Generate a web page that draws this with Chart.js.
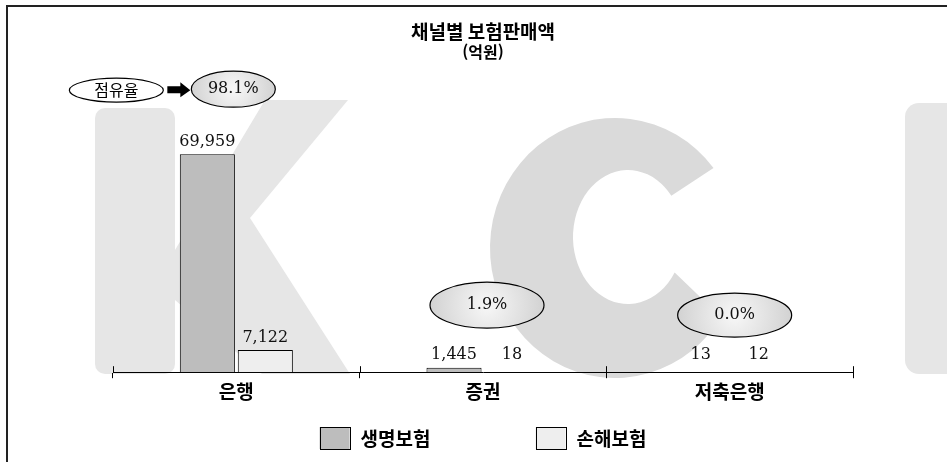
<!DOCTYPE html>
<html lang="ko">
<head>
<meta charset="utf-8">
<title>채널별 보험판매액</title>
<script src="https://cdn.jsdelivr.net/npm/chart.js@4.4.1/dist/chart.umd.min.js"></script>
<style>
    html, body { margin: 0; padding: 0; background: #fff; }
    #wrap { width: 947px; height: 462px; }
</style>
</head>
<body>
<div id="wrap"><canvas id="chart" width="947" height="462"></canvas></div>
<script>
// 채널별 판매액 (억원)
const channels = ["은행", "증권", "저축은행"];
const seriesNames = ["생명보험", "손해보험"];
const lifeSales = [69959, 1445, 13];
const nonLifeSales = [7122, 18, 12];
// 채널별 점유율 (%)
const shareValues = [98.1, 1.9, 0.0];

const KR = "'Noto Sans CJK KR', 'Noto Sans', sans-serif";
const NUM = "'DejaVu Serif', 'Liberation Serif', serif";
const fills = ["#bdbdbd", "#eeeeee"];

// bubble placement per channel: x nudge from category centre, height above the axis, radii
const bubbleLayout = [
    { dx: -3, rise: 283, rx: 42, ry: 18 },
    { dx: 4, rise: 67, rx: 57, ry: 23 },
    { dx: 5, rise: 57, rx: 57, ry: 22 }
];

function ellipseBubble(ctx, cx, cy, rx, ry, shaded) {
    ctx.save();
    ctx.beginPath();
    ctx.ellipse(cx, cy, rx, ry, 0, 0, Math.PI * 2);
    if (shaded) {
        const g = ctx.createRadialGradient(cx, cy, 2, cx, cy, rx);
        g.addColorStop(0, "#f6f6f6");
        g.addColorStop(1, "#d2d2d2");
        ctx.fillStyle = g;
    } else {
        ctx.fillStyle = "#fff";
    }
    ctx.fill();
    ctx.lineWidth = 1.2;
    ctx.strokeStyle = "#000";
    ctx.stroke();
    ctx.restore();
}

// faint KCI logo behind the plot plus the frame lines
const backdrop = {
    id: "backdrop",
    beforeDraw(chart) {
        const ctx = chart.ctx;
        const D = Math.PI / 180;
        ctx.save();
        ctx.fillStyle = "#fff";
        ctx.fillRect(0, 0, chart.width, chart.height);

        ctx.fillStyle = "#e6e6e6";
        ctx.beginPath();
        ctx.roundRect(95, 108, 80, 266, 10);
        ctx.fill();
        ctx.beginPath();
        ctx.moveTo(175, 250);
        ctx.lineTo(265, 100);
        ctx.lineTo(348, 100);
        ctx.lineTo(250, 218);
        ctx.lineTo(350, 374);
        ctx.lineTo(262, 374);
        ctx.lineTo(175, 300);
        ctx.closePath();
        ctx.fill();

        ctx.fillStyle = "#dadada";
        ctx.beginPath();
        ctx.ellipse(615, 248, 125, 130, 0, -38 * D, 32 * D, true);
        ctx.ellipse(628, 237, 55, 67, 0, 32 * D, -38 * D, false);
        ctx.closePath();
        ctx.fill();

        ctx.fillStyle = "#e6e6e6";
        ctx.beginPath();
        ctx.roundRect(905, 103, 60, 271, 14);
        ctx.fill();

        ctx.strokeStyle = "#222";
        ctx.lineWidth = 2;
        ctx.beginPath();
        ctx.moveTo(7, chart.height);
        ctx.lineTo(7, 6);
        ctx.lineTo(chart.width, 6);
        ctx.stroke();
        ctx.restore();
    }
};

const annotations = {
    id: "annotations",
    afterDatasetsDraw(chart) {
        const ctx = chart.ctx;
        const x = chart.scales.x;
        const area = chart.chartArea;
        const base = area.bottom;
        const step = (area.right - area.left) / channels.length;

        // tick stubs rising above the axis line
        ctx.save();
        ctx.strokeStyle = "#000";
        ctx.lineWidth = 1;
        for (let i = 0; i <= channels.length; i++) {
            const px = Math.round(area.left + i * step) + 0.5;
            ctx.beginPath();
            ctx.moveTo(px, base - 6);
            ctx.lineTo(px, base);
            ctx.stroke();
        }

        // value labels over each bar
        ctx.font = "16px " + NUM;
        ctx.fillStyle = "#111";
        ctx.textAlign = "center";
        ctx.textBaseline = "middle";
        chart.data.datasets.forEach((ds, di) => {
            chart.getDatasetMeta(di).data.forEach((bar, i) => {
                const y = Math.min(bar.y - 12, base - 17);
                ctx.fillText(ds.data[i].toLocaleString("en-US"), bar.x, y);
            });
        });

        // share bubbles
        shareValues.forEach((v, i) => {
            const b = bubbleLayout[i];
            const cx = x.getPixelForValue(i) + b.dx;
            const cy = base - b.rise;
            ellipseBubble(ctx, cx, cy, b.rx, b.ry, true);
            ctx.fillStyle = "#111";
            ctx.font = "16px " + NUM;
            ctx.fillText(v.toFixed(1) + "%", cx, cy);
        });

        // "점유율" key bubble with arrow pointing at the first share
        const b0 = bubbleLayout[0];
        const fx = x.getPixelForValue(0) + b0.dx;
        const fy = base - b0.rise;
        const kx = fx - 117;
        ellipseBubble(ctx, kx, fy + 1, 47, 12, false);
        ctx.fillStyle = "#000";
        ctx.font = "16px " + KR;
        ctx.fillText("점유율", kx, fy + 1);
        const ax = kx + 51;
        ctx.beginPath();
        ctx.moveTo(ax, fy - 3);
        ctx.lineTo(ax + 13, fy - 3);
        ctx.lineTo(ax + 13, fy - 7);
        ctx.lineTo(ax + 23, fy + 1);
        ctx.lineTo(ax + 13, fy + 8);
        ctx.lineTo(ax + 13, fy + 4);
        ctx.lineTo(ax, fy + 4);
        ctx.closePath();
        ctx.fill();

        // legend
        ctx.font = "bold 19px " + KR;
        ctx.textAlign = "left";
        const sw = 30, sh = 22, gapText = 11, gapItem = 105;
        const widths = seriesNames.map(n => sw + gapText + ctx.measureText(n).width);
        const total = widths.reduce((a, w) => a + w, 0) + gapItem * (widths.length - 1);
        let lx = (area.left + area.right) / 2 - total / 2;
        const ly = 438;
        seriesNames.forEach((n, i) => {
            ctx.fillStyle = fills[i];
            ctx.fillRect(lx, ly - sh / 2, sw, sh);
            ctx.strokeStyle = "#000";
            ctx.lineWidth = 1;
            ctx.strokeRect(Math.round(lx) + 0.5, ly - sh / 2 + 0.5, sw, sh);
            ctx.fillStyle = "#000";
            ctx.fillText(n, lx + sw + gapText, ly + 1);
            lx += widths[i] + gapItem;
        });
        ctx.restore();
    }
};

new Chart(document.getElementById("chart"), {
    type: "bar",
    data: {
        labels: channels,
        datasets: [
            { label: seriesNames[0], data: lifeSales, backgroundColor: fills[0], borderColor: "#000", borderWidth: 1 },
            { label: seriesNames[1], data: nonLifeSales, backgroundColor: fills[1], borderColor: "#000", borderWidth: 1 }
        ]
    },
    options: {
        responsive: false,
        devicePixelRatio: 1,
        animation: false,
        events: [],
        categoryPercentage: 0.47,
        barPercentage: 0.95,
        layout: { padding: { top: 6, left: 113, right: 94, bottom: 57 } },
        plugins: {
            legend: { display: false },
            tooltip: { enabled: false },
            title: {
                display: true,
                text: "채널별 보험판매액",
                color: "#000",
                font: { family: KR, size: 19, weight: "bold" },
                padding: { top: 14, bottom: 0 }
            },
            subtitle: {
                display: true,
                text: "(억원)",
                color: "#000",
                font: { family: KR, size: 16, weight: "bold" },
                padding: { top: 0, bottom: 61 }
            }
        },
        scales: {
            x: {
                grid: { display: true, drawOnChartArea: false, offset: true, tickLength: 6, color: "#000", lineWidth: 1 },
                border: { display: true, color: "#000", width: 1 },
                ticks: { color: "#000", padding: 2, font: { family: KR, size: 19, weight: "bold" } }
            },
            y: { display: false, min: 0, max: 80000 }
        }
    },
    plugins: [backdrop, annotations]
});
</script>
</body>
</html>
